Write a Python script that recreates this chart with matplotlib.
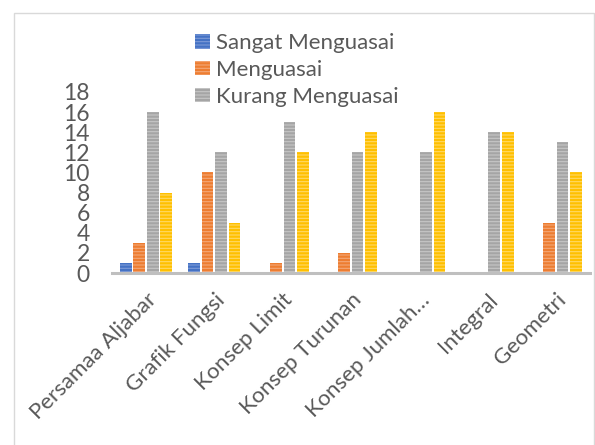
import matplotlib
matplotlib.use("Agg")
import matplotlib.pyplot as plt
import numpy as np
from matplotlib.patches import Rectangle

categories = ["Persamaa Aljabar", "Grafik Fungsi", "Konsep Limit", "Konsep Turunan",
              "Konsep Jumlah…", "Integral", "Geometri"]
sangat_menguasai = [1, 1, 0, 0, 0, 0, 0]
menguasai = [3, 10, 1, 2, 0, 0, 5]
kurang_menguasai = [16, 12, 15, 12, 12, 14, 13]
tidak_menguasai = [8, 5, 12, 14, 16, 14, 10]
series_names = ["Sangat Menguasai", "Menguasai", "Kurang Menguasai", "Tidak Menguasai"]
yticks = [0, 2, 4, 6, 8, 10, 12, 14, 16, 18]

colors = ["#4472C4", "#ED7D31", "#A5A5A5", "#FFC000"]
stripe = ["#7d9ad6", "#f3a777", "#c6c6c6", "#ffd966"]

plt.rcParams['font.family'] = ['Lato', 'DejaVu Sans']
plt.rcParams['hatch.linewidth'] = 0.8

fig = plt.figure(figsize=(5.95, 4.45), dpi=100)
ax = fig.add_axes([0.188, 0.3865, 0.8036, 0.4068])

x = np.arange(len(categories))
w = 0.17
step = 0.198
data = [sangat_menguasai, menguasai, kurang_menguasai, tidak_menguasai]
handles = []
for i, (vals, name) in enumerate(zip(data, series_names)):
    b = ax.bar(x + (i - 1.5) * step, vals, width=w, color=colors[i],
               edgecolor=stripe[i], linewidth=0, hatch='-----', label=name)
    handles.append(b)

ax.set_xlim(-0.5, len(categories) - 0.5)
ax.set_ylim(0, 18)
ax.set_yticks(yticks)
ax.set_yticklabels([str(t) for t in yticks], fontsize=16.5, color="#595959")
ax.set_xticks(x)
ax.set_xticklabels(categories, rotation=45, ha='right', va='top',
                   rotation_mode='anchor', fontsize=16, color="#595959")
ax.tick_params(axis='both', length=0)
ax.tick_params(axis='y', pad=16)
ax.tick_params(axis='x', pad=12)
for s in ['top', 'right', 'left']:
    ax.spines[s].set_visible(False)
ax.spines['bottom'].set_color('#BFBFBF')
ax.spines['bottom'].set_linewidth(2.2)

leg = fig.legend(handles[:3], series_names[:3], loc='upper left',
                 bbox_to_anchor=(0.328, 0.925), frameon=False, fontsize=16,
                 handlelength=0.65, handleheight=0.6, handletextpad=0.3,
                 labelspacing=0.3, borderaxespad=0, borderpad=0)
for t in leg.get_texts():
    t.set_color("#595959")

fig.patches.append(Rectangle((14 / 595, -0.01), (594 - 14) / 595, (445 - 13) / 445 + 0.01,
                             transform=fig.transFigure, fill=False,
                             edgecolor='#D9D9D9', linewidth=1.0))

fig.savefig("out.png", dpi=100)
